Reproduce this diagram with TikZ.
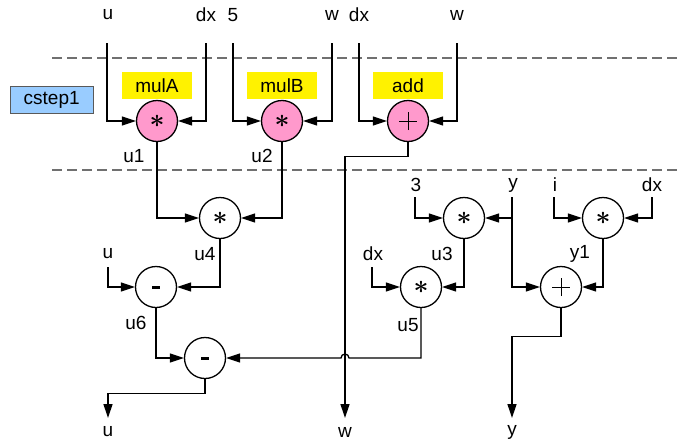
\documentclass[tikz,border=0pt]{standalone}
\usepackage{fontspec}
\setmainfont{Liberation Sans}
\usetikzlibrary{arrows.meta}
\definecolor{opPink}{HTML}{FF99CC}
\definecolor{stepBlue}{HTML}{99CCFF}
\definecolor{sepGray}{HTML}{707070}
\newcommand{\opstar}{\scalebox{2.6}{\boldmath$\ast$}}
\newcommand{\opminus}{\rule{8pt}{3pt}}
\begin{document}
\begin{tikzpicture}[x=1pt,y=-1pt,
  lbl/.style={font=\fontsize{19}{19}\selectfont, inner sep=0pt},
  op/.style={circle, draw, line width=1.3pt, minimum size=41pt, inner sep=0pt, fill=white},
  pinkop/.style={op, fill=opPink},
  tagbox/.style={fill=yellow, minimum width=70pt, minimum height=27pt, inner sep=0pt, font=\fontsize{19}{19}\selectfont},
  wire/.style={line width=1.3pt},
  arr/.style={wire, -{Triangle[length=14pt,width=9pt]}},
  sepline/.style={draw=sepGray, line width=1.2pt, dash pattern=on 10pt off 5pt},
  plusmark/.style={line width=0.9pt}
]
\useasboundingbox (0,0) rectangle (677,442);

% separators
\coordinate (sepA1) at (52,58);  \coordinate (sepA2) at (677,58);
\coordinate (sepB1) at (52,170); \coordinate (sepB2) at (677,170);
\draw[sepline] (sepA1) -- (sepA2);
\draw[sepline] (sepB1) -- (sepB2);

% cstep box
\node[draw=black!65, line width=0.9pt, fill=stepBlue, minimum width=83pt, minimum height=27pt, inner sep=0pt, font=\fontsize{19}{19}\selectfont] (cstep) at (51.7,99.7) {cstep1};

% top labels
\node[lbl] (tU)   at (108,15) {u};
\node[lbl] (tDx1) at (206,15) {dx};
\node[lbl] (t5)   at (233,15) {5};
\node[lbl] (tW1)  at (332,15) {w};
\node[lbl] (tDx2) at (359,15) {dx};
\node[lbl] (tW2)  at (457,15) {w};

% tags
\node[tagbox] (tagA) at (157,85.5) {mulA};
\node[tagbox] (tagB) at (282,85.5) {mulB};
\node[tagbox] (tagC) at (408,85.5) {add};

% operators
\node[pinkop] (mulA) at (157,121) {\opstar};
\node[pinkop] (mulB) at (282,121) {\opstar};
\node[pinkop] (add)  at (408,121) {};
\node[op] (m4) at (220,218) {\opstar};
\node[op] (s6) at (156,287) {\opminus};
\node[op] (s7) at (205,358) {\opminus};
\node[op] (m3) at (464,218) {\opstar};
\node[op] (m5) at (421,287) {\opstar};
\node[op] (m1y) at (603,218) {\opstar};
\node[op] (pl) at (561,287) {};
\draw[plusmark] ([xshift=-9pt]add.center) -- ([xshift=9pt]add.center);
\draw[plusmark] ([yshift=-9pt]add.center) -- ([yshift=9pt]add.center);
\draw[plusmark] ([xshift=-9pt]pl.center) -- ([xshift=9pt]pl.center);
\draw[plusmark] ([yshift=-9pt]pl.center) -- ([yshift=9pt]pl.center);

% wire labels
\node[lbl] (lU1) at (134,156) {u1};
\node[lbl] (lU2) at (262,156) {u2};
\node[lbl] (lU4) at (205,254) {u4};
\node[lbl] (lU6) at (136,323) {u6};
\node[lbl] (lU3) at (442,254) {u3};
\node[lbl] (lU5) at (408,325) {u5};
\node[lbl] (lY1) at (580,254) {y1};
\node[lbl] (lDx3) at (373,254) {dx};
\node[lbl] (lU)  at (108,254) {u};
\node[lbl] (l3)  at (416,185) {3};
\node[lbl] (lY)  at (513,185) {y};
\node[lbl] (lI)  at (555,185) {i};
\node[lbl] (lDx4) at (652,185) {dx};
\node[lbl] (bU) at (108,432) {u};
\node[lbl] (bW) at (345,432) {w};
\node[lbl] (bY) at (512,432) {y};

% wire start / end coordinates
\coordinate (inU1)  at (107,43);
\coordinate (inDx1) at (206,43);
\coordinate (in5)   at (233,43);
\coordinate (inW1)  at (332,43);
\coordinate (inDx2) at (359,43);
\coordinate (inW2)  at (457,43);
\coordinate (inU2)  at (108,267);
\coordinate (inDx3) at (372,267);
\coordinate (in3)   at (415,197);
\coordinate (inY)   at (512,197);
\coordinate (inI)   at (554,197);
\coordinate (inDx4) at (652,197);
\coordinate (yBr)   at (512,218);
\coordinate (wOut)  at (345,418);
\coordinate (uOut)  at (108,418);
\coordinate (yOut)  at (512,418);
\coordinate (hopR)  at (349,358);

% top stage
\draw[arr] (inU1) |- (mulA.west);
\draw[arr] (inDx1) |- (mulA.east);
\draw[arr] (in5) |- (mulB.west);
\draw[arr] (inW1) |- (mulB.east);
\draw[arr] (inDx2) |- (add.west);
\draw[arr] (inW2) |- (add.east);
\draw[arr] (add.south) -- ++(0,14) -| (wOut);

% left block
\draw[arr] (mulA.south) |- (m4.west);
\draw[arr] (mulB.south) |- (m4.east);
\draw[arr] (m4.south) |- (s6.east);
\draw[arr] (inU2) |- (s6.west);
\draw[arr] (s6.south) |- (s7.west);
\draw[arr] (s7.south) -- ++(0,14) -| (uOut);

% right block
\draw[arr] (in3) |- (m3.west);
\draw[arr] (inY) |- (pl.west);
\draw[arr] (yBr) -- (m3.east);
\draw[arr] (m3.south) |- (m5.east);
\draw[arr] (inDx3) |- (m5.west);
\draw[arr] (m5.south) |- (hopR) arc[start angle=0, end angle=180, radius=4pt] -- (s7.east);
\draw[arr] (inI) |- (m1y.west);
\draw[arr] (inDx4) |- (m1y.east);
\draw[arr] (m1y.south) |- (pl.east);
\draw[arr] (pl.south) -- ++(0,28) -| (yOut);
\end{tikzpicture}
\end{document}
